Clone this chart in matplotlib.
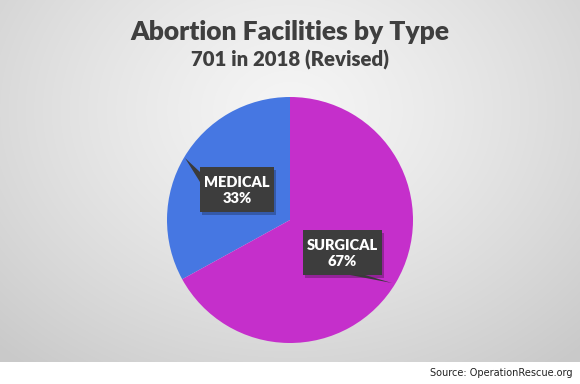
import numpy as np
import matplotlib
matplotlib.use("Agg")
import matplotlib.pyplot as plt
from matplotlib.patches import Polygon

categories = ["MEDICAL", "SURGICAL"]
values = [33, 67]
colors = ["#4677E2", "#C52FCB"]
title = "Abortion Facilities by Type"
subtitle = "701 in 2018 (Revised)"
source = "Source: OperationRescue.org"

W, H = 580, 384
fig = plt.figure(figsize=(W / 100, H / 100), dpi=100, facecolor="white")

# gradient background panel (top 362 px)
gh = 362
bg = fig.add_axes([0, (H - gh) / H, 1, gh / H])
yy, xx = np.mgrid[0:gh, 0:W]
r = np.sqrt(((xx - 290) / 420) ** 2 + ((yy - 110) / 330) ** 2)
r = np.clip(r, 0, 1)
v = 0.96 - 0.17 * r ** 1.3
bg.imshow(np.dstack([v, v, v]), aspect="auto", extent=[0, W, gh, 0])
bg.set_xlim(0, W)
bg.set_ylim(gh, 0)
bg.axis("off")

fig.text(290 / W, 1 - 32 / H, title, ha="center", va="center",
         fontsize=19, fontweight="heavy", color="#3f3f3f", family="Lato")
fig.text(290 / W, 1 - 60 / H, subtitle, ha="center", va="center",
         fontsize=14.7, fontweight="heavy", color="#3f3f3f", family="Lato")
fig.text(572 / W, 1 - 373 / H, source, ha="right", va="center",
         fontsize=7, color="#222222", family="DejaVu Sans")

cx, cy, R = 290, 220, 123
ax = fig.add_axes([(cx - R) / W, (H - cy - R) / H, 2 * R / W, 2 * R / H])
ax.pie(values, colors=colors, startangle=90, counterclock=True, radius=1,
       wedgeprops=dict(linewidth=0))
ax.set_xlim(-1, 1)
ax.set_ylim(-1, 1)
ax.set_aspect("auto")
ax.axis("off")


def p(px, py):
    return ((px - cx) / R, (cy - py) / R)


def callout(box, tip, base, text):
    x0, y0, x1, y1 = box
    sx, sy = 2, 3
    shadow = Polygon([p(x0 + sx, y0 + sy), p(x1 + sx, y0 + sy), p(x1 + sx, y1 + sy), p(x0 + sx, y1 + sy)],
                     closed=True, facecolor="#000000", alpha=0.25, edgecolor="none", zorder=5)
    ax.add_patch(shadow)
    tri = Polygon([p(*base[0]), p(*tip), p(*base[1])], closed=True,
                  facecolor="#3a3a3a", edgecolor="none", zorder=6)
    ax.add_patch(tri)
    rect = Polygon([p(x0, y0), p(x1, y0), p(x1, y1), p(x0, y1)], closed=True,
                   facecolor="#3d3d3d", edgecolor="none", zorder=7)
    ax.add_patch(rect)
    mx, my = p((x0 + x1) / 2, (y0 + y1) / 2 + 1)
    ax.text(mx, my, text, ha="center", va="center", color="white",
            fontsize=10.5, fontweight="heavy", family="Lato", zorder=8,
            linespacing=1.25)


total = sum(values)
labels = [f"{c}\n{round(v / total * 100)}%" for c, v in zip(categories, values)]

callout((200, 167, 274, 212), (185, 158), [(200, 172), (200, 182)], labels[0])
callout((303, 230, 382, 275), (392, 283), [(350, 275), (365, 275)], labels[1])

fig.savefig("out.png", dpi=100, facecolor="white")
